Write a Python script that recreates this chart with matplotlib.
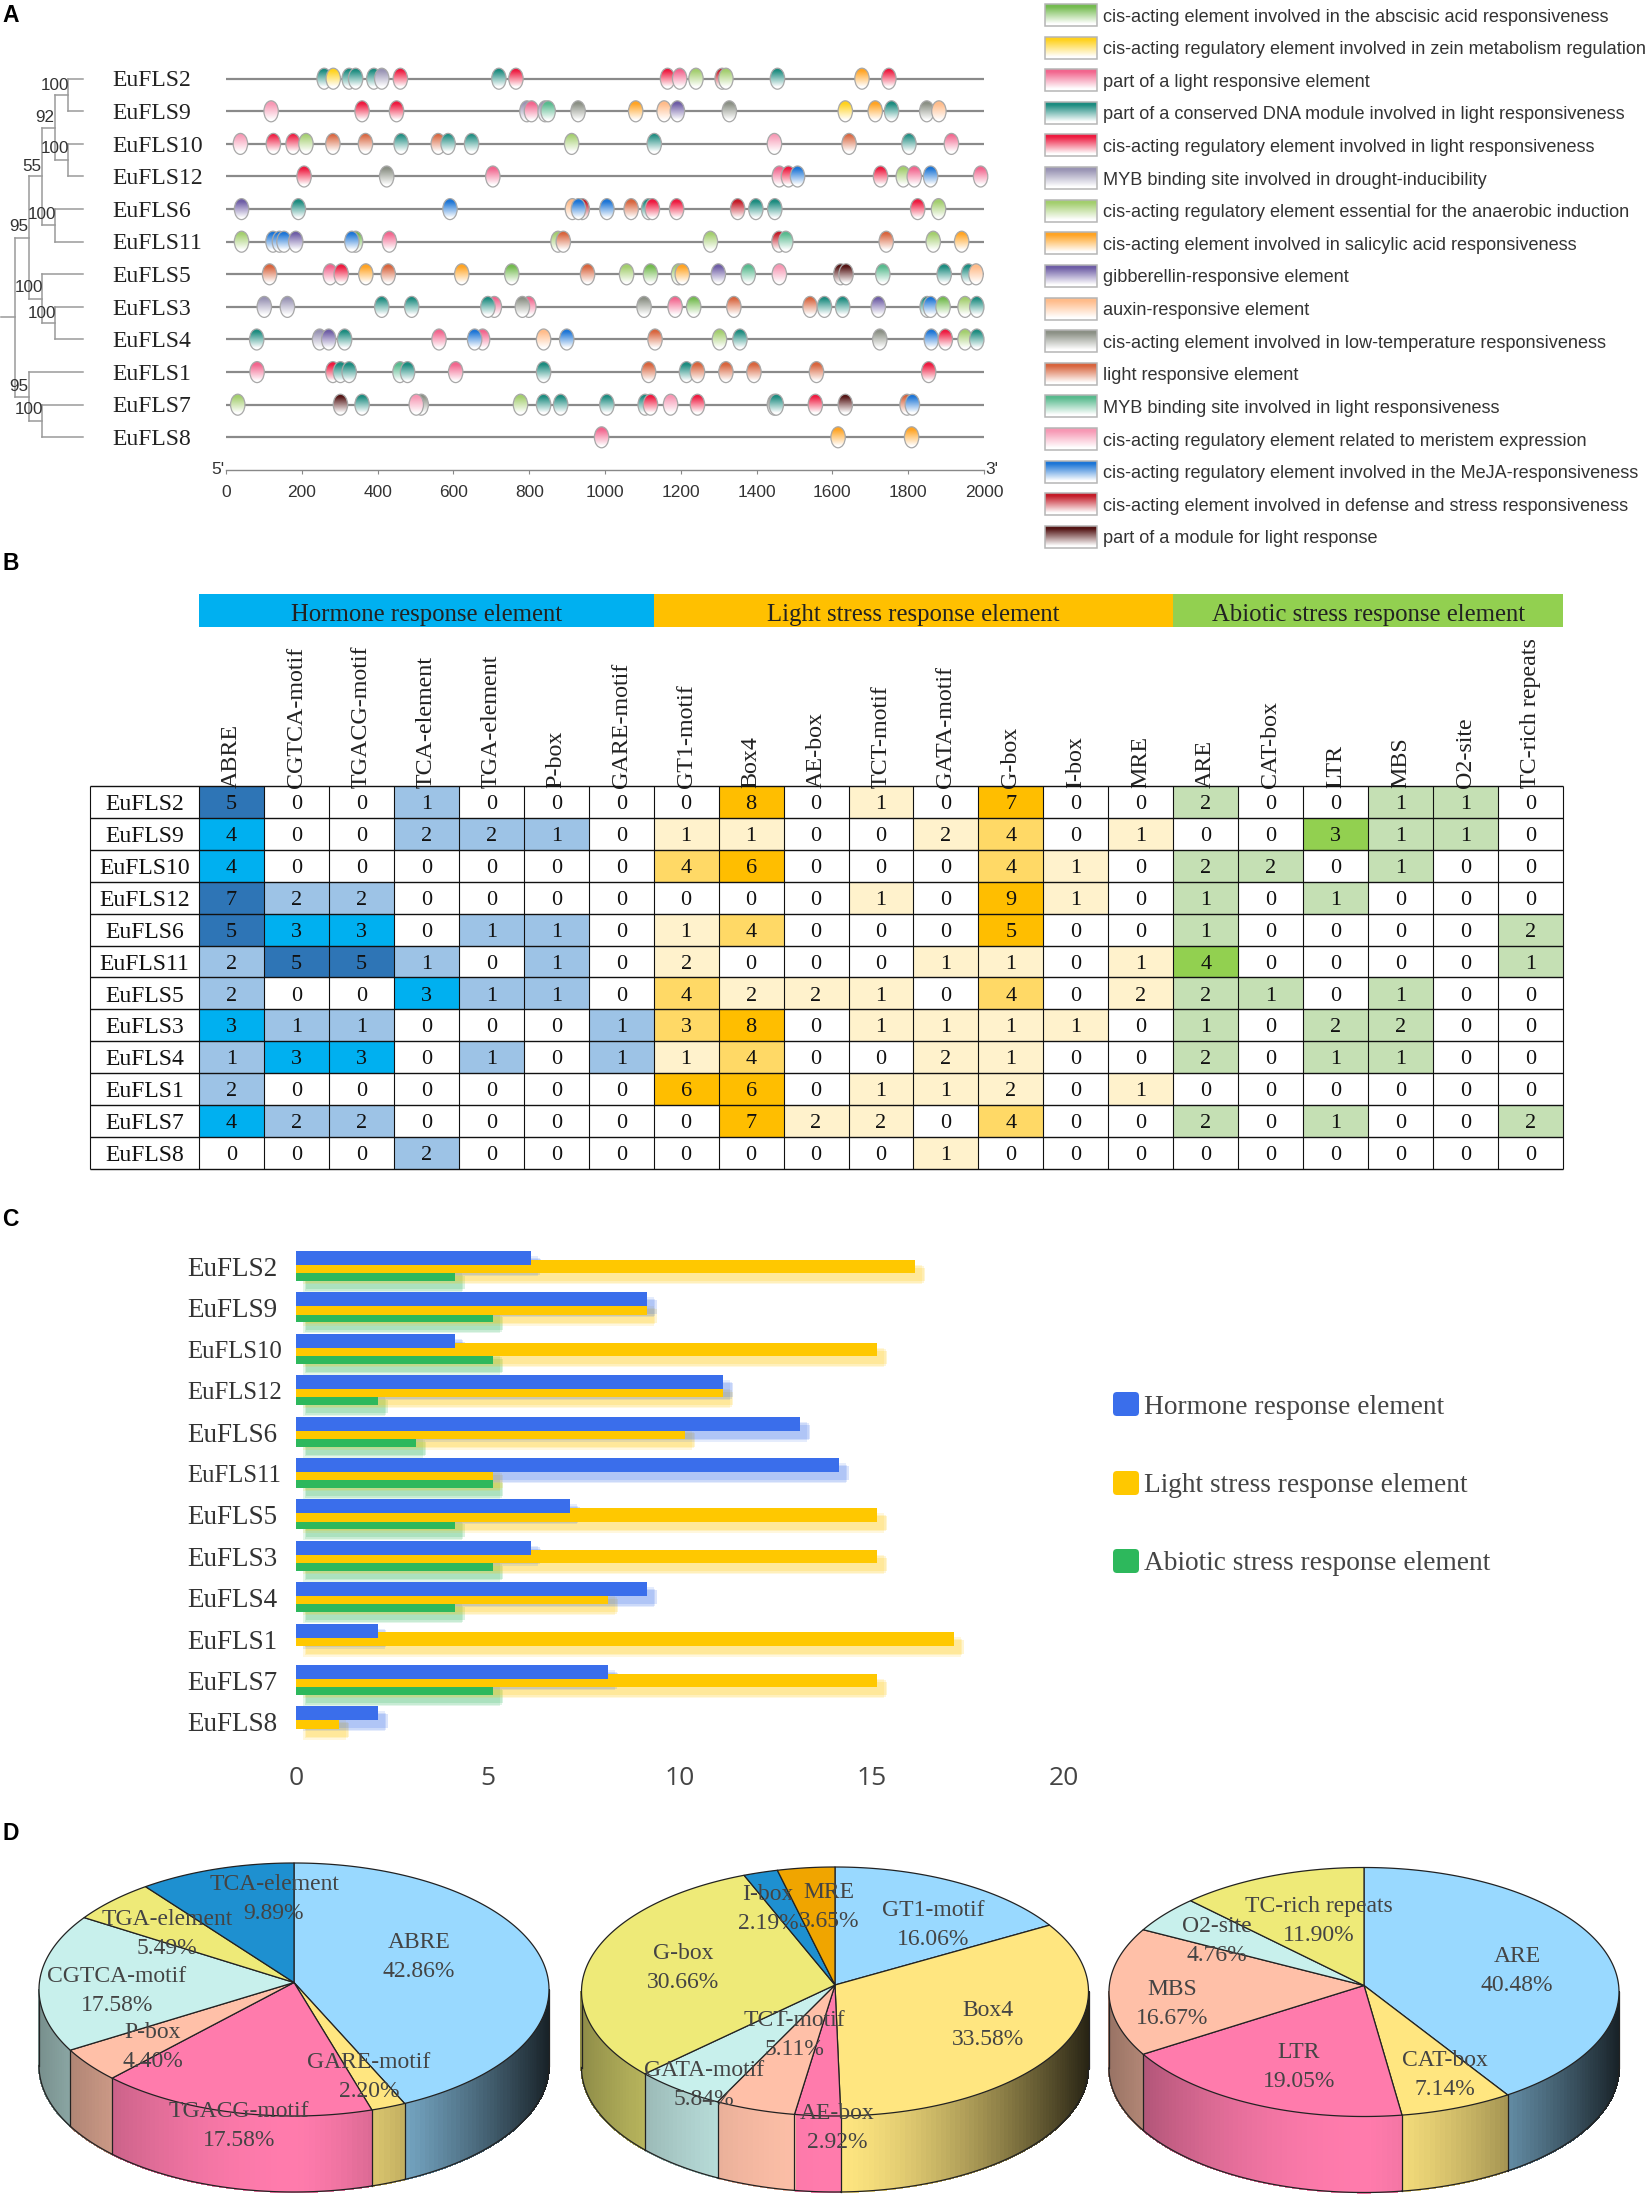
import numpy as np
import matplotlib
matplotlib.use('Agg')
import matplotlib.pyplot as plt
from matplotlib.patches import Ellipse, Rectangle, FancyBboxPatch, Polygon
from matplotlib.colors import to_rgb

W, H = 1652, 2195
SERIF = 'Liberation Serif'
SANS = 'Liberation Sans'

# ---------------- data ----------------
tree_genes = ['EuFLS2', 'EuFLS9', 'EuFLS10', 'EuFLS12', 'EuFLS6', 'EuFLS11',
              'EuFLS5', 'EuFLS3', 'EuFLS4', 'EuFLS1', 'EuFLS7', 'EuFLS8']

motif_names = {
    'ab': 'cis-acting element involved in the abscisic acid responsiveness',
    'ze': 'cis-acting regulatory element involved in zein metabolism regulation',
    'pl': 'part of a light responsive element',
    'cd': 'part of a conserved DNA module involved in light responsiveness',
    'lr': 'cis-acting regulatory element involved in light responsiveness',
    'dr': 'MYB binding site involved in drought-inducibility',
    'an': 'cis-acting regulatory element essential for the anaerobic induction',
    'sa': 'cis-acting element involved in salicylic acid responsiveness',
    'gi': 'gibberellin-responsive element',
    'au': 'auxin-responsive element',
    'lt': 'cis-acting element involved in low-temperature responsiveness',
    'le': 'light responsive element',
    'my': 'MYB binding site involved in light responsiveness',
    'me': 'cis-acting regulatory element related to meristem expression',
    'ja': 'cis-acting regulatory element involved in the MeJA-responsiveness',
    'de': 'cis-acting element involved in defense and stress responsiveness',
    'mo': 'part of a module for light response',
}
motif_colors = {
    'ab': '#74BB50', 'ze': '#FFD21E', 'pl': '#F2668E', 'cd': '#1D8C80', 'lr': '#EE1B40',
    'dr': '#9994B4', 'an': '#A3CE6E', 'sa': '#FFA424', 'gi': '#6F5EA6', 'au': '#FFBC8A',
    'lt': '#8C9186', 'le': '#D8653E', 'my': '#58BA8E', 'me': '#F798B4', 'ja': '#1E76D6',
    'de': '#C41C28', 'mo': '#551616',
}
motif_sites = {
    'EuFLS2': [(259,'cd'),(283,'ze'),(325,'cd'),(342,'cd'),(390,'cd'),(411,'dr'),(460,'lr'),(720,'cd'),(765,'lr'),
               (1165,'lr'),(1197,'pl'),(1240,'an'),(1309,'de'),(1319,'an'),(1455,'cd'),(1678,'sa'),(1749,'lr')],
    'EuFLS9': [(119,'me'),(359,'lr'),(450,'lr'),(794,'dr'),(806,'pl'),(842,'dr'),(850,'my'),(929,'lt'),(1081,'sa'),
               (1156,'au'),(1191,'gi'),(1328,'lt'),(1634,'ze'),(1713,'sa'),(1756,'cd'),(1849,'lt'),(1881,'au')],
    'EuFLS10': [(38,'me'),(125,'lr'),(177,'lr'),(211,'an'),(282,'le'),(368,'le'),(462,'cd'),(560,'le'),(586,'cd'),
                (648,'cd'),(912,'an'),(1130,'cd'),(1447,'me'),(1644,'le'),(1802,'cd'),(1914,'pl')],
    'EuFLS12': [(206,'lr'),(424,'lt'),(704,'pl'),(1460,'pl'),(1484,'lr'),(1508,'ja'),(1727,'lr'),(1787,'an'),
                (1816,'pl'),(1859,'ja'),(1991,'pl')],
    'EuFLS6': [(41,'gi'),(191,'cd'),(591,'ja'),(914,'au'),(940,'de'),(930,'ja'),(1005,'ja'),(1069,'le'),(1115,'cd'),
               (1125,'lr'),(1189,'lr'),(1350,'de'),(1398,'cd'),(1448,'cd'),(1825,'lr'),(1880,'an')],
    'EuFLS11': [(41,'an'),(124,'ja'),(141,'ja'),(153,'ja'),(184,'gi'),(342,'ab'),(332,'ja'),(431,'pl'),(876,'an'),
                (890,'le'),(1278,'an'),(1459,'de'),(1477,'my'),(1742,'le'),(1866,'an'),(1941,'sa')],
    'EuFLS5': [(115,'le'),(275,'pl'),(304,'lr'),(369,'sa'),(428,'le'),(622,'sa'),(754,'ab'),(954,'le'),(1057,'an'),
               (1120,'ab'),(1194,'an'),(1204,'sa'),(1299,'gi'),(1378,'my'),(1460,'me'),(1622,'mo'),(1636,'mo'),
               (1733,'my'),(1895,'cd'),(1959,'cd'),(1979,'au')],
    'EuFLS3': [(101,'dr'),(162,'dr'),(411,'cd'),(490,'cd'),(708,'pl'),(691,'cd'),(799,'pl'),(782,'lt'),(1103,'lt'),
               (1185,'pl'),(1234,'ab'),(1340,'le'),(1541,'le'),(1579,'cd'),(1627,'cd'),(1721,'gi'),(1850,'cd'),
               (1859,'ja'),(1892,'ab'),(1950,'an'),(1981,'cd')],
    'EuFLS4': [(81,'cd'),(247,'dr'),(271,'gi'),(313,'cd'),(562,'pl'),(677,'pl'),(656,'ja'),(838,'au'),(899,'ja'),
               (1132,'le'),(1302,'an'),(1356,'cd'),(1725,'lt'),(1861,'ja'),(1898,'lr'),(1950,'an'),(1981,'cd')],
    'EuFLS1': [(82,'pl'),(282,'lr'),(302,'cd'),(325,'cd'),(459,'my'),(479,'cd'),(606,'pl'),(838,'cd'),(1115,'le'),
               (1215,'cd'),(1244,'le'),(1319,'le'),(1393,'le'),(1558,'le'),(1854,'lr')],
    'EuFLS7': [(31,'an'),(302,'mo'),(359,'cd'),(515,'lt'),(502,'me'),(777,'an'),(838,'cd'),(883,'cd'),(1005,'cd'),
               (1106,'cd'),(1120,'lr'),(1173,'me'),(1244,'lr'),(1447,'lt'),(1452,'cd'),(1555,'lr'),(1634,'mo'),
               (1797,'le'),(1811,'ja')],
    'EuFLS8': [(991,'pl'),(1615,'sa'),(1809,'sa')],
}
# tree: (node x in px, children); leaves are row indices
tree_topology = (15, [
    (29, [(42, [(55, [(68, [0, 1]), (68, [2, 3])]), (55, [4, 5])]),
          (42, [6, (55, [7, 8])])]),
    (29, [9, (42, [10, 11])]),
])
bootstrap_labels = ['100', '92', '100', '55', '100', '95', '100', '100', '95', '100']
bootstrap_x = [55, 45, 55, 32, 42, 19, 29, 42, 19, 29]
bootstrap_y = [85, 117, 149, 167, 215, 227, 288, 314, 387, 410]

groups = ['Hormone response element', 'Light stress response element', 'Abiotic stress response element']
group_sizes = [7, 8, 6]
elements = ['ABRE', 'CGTCA-motif', 'TGACG-motif', 'TCA-element', 'TGA-element', 'P-box', 'GARE-motif',
            'GT1-motif', 'Box4', 'AE-box', 'TCT-motif', 'GATA-motif', 'G-box', 'I-box', 'MRE',
            'ARE', 'CAT-box', 'LTR', 'MBS', 'O2-site', 'TC-rich repeats']
counts = np.array([
    [5,0,0,1,0,0,0, 0,8,0,1,0,7,0,0, 2,0,0,1,1,0],
    [4,0,0,2,2,1,0, 1,1,0,0,2,4,0,1, 0,0,3,1,1,0],
    [4,0,0,0,0,0,0, 4,6,0,0,0,4,1,0, 2,2,0,1,0,0],
    [7,2,2,0,0,0,0, 0,0,0,1,0,9,1,0, 1,0,1,0,0,0],
    [5,3,3,0,1,1,0, 1,4,0,0,0,5,0,0, 1,0,0,0,0,2],
    [2,5,5,1,0,1,0, 2,0,0,0,1,1,0,1, 4,0,0,0,0,1],
    [2,0,0,3,1,1,0, 4,2,2,1,0,4,0,2, 2,1,0,1,0,0],
    [3,1,1,0,0,0,1, 3,8,0,1,1,1,1,0, 1,0,2,2,0,0],
    [1,3,3,0,1,0,1, 1,4,0,0,2,1,0,0, 2,0,1,1,0,0],
    [2,0,0,0,0,0,0, 6,6,0,1,1,2,0,1, 0,0,0,0,0,0],
    [4,2,2,0,0,0,0, 0,7,2,2,0,4,0,0, 2,0,1,0,0,2],
    [0,0,0,2,0,0,0, 0,0,0,0,1,0,0,0, 0,0,0,0,0,0],
])

bar_hormone = [6, 9, 4, 11, 13, 14, 7, 6, 9, 2, 8, 2]
bar_light = [16, 9, 15, 11, 10, 5, 15, 15, 8, 17, 15, 1]
bar_abiotic = [4, 5, 5, 2, 3, 5, 4, 5, 4, 0, 5, 0]

pie1_names = ['ABRE', 'GARE-motif', 'TGACG-motif', 'P-box', 'CGTCA-motif', 'TGA-element', 'TCA-element']
pie1_share = [42.86, 2.20, 17.58, 4.40, 17.58, 5.49, 9.89]
pie2_names = ['GT1-motif', 'Box4', 'AE-box', 'TCT-motif', 'GATA-motif', 'G-box', 'I-box', 'MRE']
pie2_share = [16.06, 33.58, 2.92, 5.11, 5.84, 30.66, 2.19, 3.65]
pie3_names = ['ARE', 'CAT-box', 'LTR', 'MBS', 'O2-site', 'TC-rich repeats']
pie3_share = [40.48, 7.14, 19.05, 16.67, 4.76, 11.90]

# ---------------- style / layout ----------------
LIGHTBLUE, PALEYEL, PINK, PEACH, MINT, LEMON, DEEPBLUE, ORANGE = (
    '#99D9FF', '#FFE680', '#FF7BAC', '#FFC0A8', '#C8F0EC', '#EEEA78', '#1E90D0', '#F0A500')
pie1_colors = [LIGHTBLUE, PALEYEL, PINK, PEACH, MINT, LEMON, DEEPBLUE]
pie2_colors = [LIGHTBLUE, PALEYEL, PINK, PEACH, MINT, LEMON, DEEPBLUE, ORANGE]
pie3_colors = [LIGHTBLUE, PALEYEL, PINK, PEACH, MINT, LEMON]
pie1_label_xy = [(419,1957),(369,2077),(239,2126),(153,2047),(117,1991),(167,1934),(274,1899)]
pie2_label_xy = [(933,1925),(988,2025),(837,2128),(794,2035),(704,2085),(683,1968),(768,1909),(829,1907)]
pie3_label_xy = [(1517,1971),(1445,2075),(1299,2067),(1172,2004),(1217,1941),(1319,1921)]

fig = plt.figure(figsize=(W / 100, H / 100), dpi=100, facecolor='white')

def add_ax(x0, y0, x1, y1):
    return fig.add_axes([x0 / W, 1 - y1 / H, (x1 - x0) / W, (y1 - y0) / H])

def gradient(color):
    rgb = np.array(to_rgb(color))
    t = np.clip((np.linspace(0, 1, 64) - 0.12) / 0.78, 0, 1)[:, None]
    return (rgb[None, :] * (1 - t) + t)[:, None, :]

# ---------------- panel A: tracks ----------------
ROW0, PITCH = 78.7, 32.6
X0, PXBP = 226.0, 758.0 / 2000
tx0, tx1, ty0, ty1 = 205, 1005, 50, 470
ax = add_ax(tx0, ty0, tx1, ty1)
ax.set_xlim((tx0 - X0) / PXBP, (tx1 - X0) / PXBP)
ax.set_ylim((ty1 - ROW0) / PITCH, (ty0 - ROW0) / PITCH)
ax.patch.set_alpha(0)
for s in ['top', 'left', 'right']:
    ax.spines[s].set_visible(False)
ax.spines['bottom'].set_bounds(0, 2000)
ax.spines['bottom'].set_color('#888888')
ax.spines['bottom'].set_linewidth(1.0)
ax.set_yticks([])
ax.set_xticks(range(0, 2001, 200))
ax.tick_params(axis='x', length=3, width=0.8, color='#888888', pad=8, labelcolor='#333333')
for t in ax.get_xticklabels():
    t.set_fontfamily(SANS); t.set_fontsize(12.5)
ax.text(-4, (470 - ROW0) / PITCH, "5'", family=SANS, fontsize=12.5, ha='right', va='center', color='#333333')
ax.text(2004, (470 - ROW0) / PITCH, "3'", family=SANS, fontsize=12.5, ha='left', va='center', color='#333333')
mw, mh = 7.2 / PXBP, 10.5 / PITCH
for r, g in enumerate(tree_genes):
    ax.plot([0, 2000], [r, r], color='#8A8A8A', lw=1.6, zorder=1, solid_capstyle='butt')
    for k, (pos, kind) in enumerate(motif_sites[g]):
        z = 2 + k * 0.01
        im = ax.imshow(gradient(motif_colors[kind]), extent=[pos - mw, pos + mw, r + mh, r - mh],
                       aspect='auto', zorder=z, interpolation='bilinear')
        e = Ellipse((pos, r), 2 * mw, 2 * mh, fc='none', ec='#A8A8A8', lw=0.9, zorder=z + 0.005)
        ax.add_patch(e)
        im.set_clip_path(e)

# tree + gene labels
ax = add_ax(0, ty0, 205, ty1)
ax.set_xlim(0, 205)
ax.set_ylim((ty1 - ROW0) / PITCH, (ty0 - ROW0) / PITCH)
ax.axis('off')
TC = '#9A9A9A'
def draw(node):
    if isinstance(node, int):
        return 83, node
    x, kids = node
    ys = []
    for k in kids:
        cx_, cy_ = draw(k)
        ax.plot([x, cx_], [cy_, cy_], color=TC, lw=1.1, solid_capstyle='projecting')
        ys.append(cy_)
    ax.plot([x, x], [min(ys), max(ys)], color=TC, lw=1.1, solid_capstyle='projecting')
    return x, (min(ys) + max(ys)) / 2
rx_, ry_ = draw(tree_topology)
ax.plot([1, rx_], [ry_, ry_], color=TC, lw=1.1)
for lab, x, y in zip(bootstrap_labels, bootstrap_x, bootstrap_y):
    ax.text(x, (y - ROW0) / PITCH, lab, family=SANS, fontsize=12.3, color='#333333', ha='center', va='center')
for r, g in enumerate(tree_genes):
    ax.text(112, r + 0.07, g, family=SERIF, fontsize=17, color='#222222', ha='left', va='center')

# motif legend
ax = add_ax(1030, 0, 1652, 552)
ax.set_xlim(1030, 1652)
ax.set_ylim(552, 0)
ax.axis('off')
for i, k in enumerate(motif_names):
    y = 15 + i * 32.62
    ax.imshow(gradient(motif_colors[k]), extent=[1045, 1097, y + 11, y - 11], aspect='auto',
              interpolation='bilinear', zorder=2)
    ax.add_patch(Rectangle((1045, y - 11), 52, 22, fc='none', ec='#B5B5B5', lw=1.1, zorder=3))
    ax.text(1103, y + 2, motif_names[k], family=SANS, fontsize=13.1, color='#333333', ha='left', va='center')

# ---------------- panel B: table ----------------
TL, T0, TR, TT, TB = 90, 199, 1563, 786, 1169
ax = add_ax(TL, TT, TR, TB)
lab_w = (T0 - TL) / ((TR - T0) / 21)
ax.set_xlim(-lab_w, 21)
ax.set_ylim(12, 0)
palettes = [('#9DC3E6', '#00B0F0', '#2E75B6'), ('#FFF2CC', '#FFD966', '#FFBE00'), ('#C5E0B4', '#92D050', '#92D050')]
group_col = np.repeat(np.arange(3), group_sizes)
for r in range(12):
    for c in range(21):
        v = counts[r, c]
        if v == 0:
            fc = 'white'
        else:
            fc = palettes[group_col[c]][0 if v <= 2 else (1 if v <= 4 else 2)]
        ax.add_patch(Rectangle((c, r), 1, 1, fc=fc, ec='none', zorder=1))
        ax.text(c + 0.5, r + 0.58, str(v), family=SERIF, fontsize=16, ha='center', va='center', color='#111111', zorder=4)
    ax.text(-lab_w / 2, r + 0.58, tree_genes[r], family=SERIF, fontsize=17, ha='center', va='center', color='#111111', zorder=4)
ax.hlines(np.arange(13), -lab_w, 21, color='#111111', lw=1.0, zorder=3, clip_on=False)
ax.vlines(np.r_[-lab_w, np.arange(22)], 0, 12, color='#111111', lw=0.8, zorder=3, clip_on=False)
for s in ax.spines.values():
    s.set_visible(False)
ax.set_yticks([])
ax.xaxis.tick_top()
ax.set_xticks(np.arange(21) + 0.5)
ax.set_xticklabels(elements, rotation=90, family=SERIF, fontsize=17.3, ha='center', va='bottom', color='#222222')
ax.tick_params(axis='x', length=0, pad=-1.5)
start = 0
band_colors = ['#00B0F0', '#FFC000', '#92D050']
for name, n, col in zip(groups, group_sizes, band_colors):
    ax.add_patch(Rectangle((start, -6.0), n, 1.02, fc=col, ec='none', clip_on=False))
    ax.text(start + n / 2, -5.37, name, family=SERIF, fontsize=17.8, ha='center', va='center',
            color='#222222', clip_on=False)
    start += n

# ---------------- panel C: bars ----------------
BX0, BX1, BY0, BY1 = 296, 1064, 1240, 1745
RC, RP = 1266.5, 41.4
ax = add_ax(BX0, BY0, BX1, BY1)
ax.set_xlim(0, 20)
ax.set_ylim((BY1 - RC) / RP, (BY0 - RC) / RP)
ax.patch.set_alpha(0)
ux = (BX1 - BX0) / 20
ys = np.arange(12)
CAP = 5.0 / ux   # rounded bar ends run a little past the value
series = [(bar_abiotic, '#2DB85C', 8.0 / RP, 13.0 / RP),
          (bar_light, '#FFC800', 0.0, 13.5 / RP),
          (bar_hormone, '#3A6EEB', -8.5 / RP, 14.0 / RP)]
for vals, col, off, hgt in series:
    w = np.where(np.array(vals) > 0, np.array(vals) + CAP, 0)
    for grow, alpha in [(3.0, 0.13), (1.5, 0.15), (0.0, 0.18)]:
        ax.barh(ys + off + 8 / RP, w, height=hgt + 2 * grow / RP, left=(10 - grow) / ux, color=col,
                alpha=alpha, lw=0, zorder=1)
for z, (vals, col, off, hgt) in enumerate(series):
    w = np.where(np.array(vals) > 0, np.array(vals) + CAP, 0)
    ax.barh(ys + off, w, height=hgt, color=col, lw=0, zorder=3 + z)
for s in ax.spines.values():
    s.set_visible(False)
ax.set_yticks(ys)
ax.set_yticklabels(tree_genes, family=SERIF, fontsize=19.5, color='#333333', ha='left')
ax.set_xticks([0, 5, 10, 15, 20])
ax.tick_params(axis='both', length=0)
ax.tick_params(axis='y', pad=78)
ax.tick_params(axis='x', pad=15, labelcolor='#444444')
for t in ax.get_xticklabels():
    t.set_fontfamily('Open Sans'); t.set_fontsize(19)
for t in ax.get_yticklabels():
    if t.get_text() in ('EuFLS10', 'EuFLS11', 'EuFLS12'):
        t.set_fontsize(17.8)

# ---------------- overlay: letters, legend C, panel D ----------------
ov = fig.add_axes([0, 0, 1, 1])
ov.set_xlim(0, W)
ov.set_ylim(H, 0)
ov.axis('off')
ov.patch.set_alpha(0)
for letter, y in zip('ABCD', [16, 563, 1220, 1834]):
    ov.text(2, y, letter, family=SANS, fontweight='bold', fontsize=16.5, ha='left', va='center', color='black')
for name, col, y in zip(groups, ['#3A6EEB', '#FFC800', '#2DB85C'], [1404, 1483, 1561]):
    ov.add_patch(FancyBboxPatch((1115, y - 10), 22, 20, boxstyle='round,pad=2,rounding_size=4', fc=col, ec='none'))
    ov.text(1144, y + 3, name, family=SERIF, fontsize=19.7, color='#444444', ha='left', va='center')

def shade(u):
    return 1 - 0.40 * abs(u) ** 2 if u <= 0 else 1 - 0.85 * u ** 1.5

def pie3d(names, shares, colors, label_xy, cx, cy, rx, ry, apex_dy, depth):
    rim = lambda th: (cx + rx * np.sin(th), cy - ry * np.cos(th))
    bounds = np.radians(np.r_[0, np.cumsum(shares)] / np.sum(shares) * 360)
    front0, front1 = np.pi / 2, 3 * np.pi / 2
    # side wall
    for a, b, col in zip(bounds[:-1], bounds[1:], colors):
        lo, hi = max(a, front0), min(b, front1)
        if lo >= hi:
            continue
        th = np.linspace(lo, hi, max(2, int(np.degrees(hi - lo) / 1.2) + 1))
        base = np.array(to_rgb(col))
        for t0, t1 in zip(th[:-1], th[1:]):
            x0, y0 = rim(t0); x1, y1 = rim(t1)
            f = shade(np.sin((t0 + t1) / 2))
            c = tuple(np.clip(base * f, 0, 1))
            ov.add_patch(Polygon([(x0, y0), (x1, y1), (x1, y1 + depth), (x0, y0 + depth)],
                                 fc=c, ec=c, lw=0.8, antialiased=False, zorder=2))
        xs, ys_ = rim(th)
        ov.plot(xs, ys_ + depth, color='#222222', lw=0.9, zorder=3)
    for b in bounds[:-1]:
        if front0 < b < front1:
            x, y = rim(b)
            ov.plot([x, x], [y, y + depth], color='#222222', lw=0.9, zorder=3)
    for b in (front0, front1):
        x, y = rim(b)
        ov.plot([x, x], [y, y + depth], color='#222222', lw=0.9, zorder=3)
    # top face
    apex = (cx, cy - apex_dy)
    for a, b, col in zip(bounds[:-1], bounds[1:], colors):
        th = np.linspace(a, b, max(3, int(np.degrees(b - a)) + 2))
        xs, ys_ = rim(th)
        ov.add_patch(Polygon([apex] + list(zip(xs, ys_)), closed=True, fc=col, ec='#222222', lw=0.9,
                             joinstyle='round', zorder=4))
    for name, s, (x, y) in zip(names, shares, label_xy):
        ov.text(x, y, f'{name}\n{s:.2f}%', family=SERIF, fontsize=17, color='#444444', ha='center', va='center',
                linespacing=1.45, zorder=6)

pie3d(pie1_names, pie1_share, pie1_colors, pie1_label_xy, 294, 1989.5, 255, 126.5, 7, 76)
pie3d(pie2_names, pie2_share, pie2_colors, pie2_label_xy, 835, 1991.5, 253.5, 124.5, 6.5, 76)
pie3d(pie3_names, pie3_share, pie3_colors, pie3_label_xy, 1364, 1992, 255, 124.5, 6.5, 76)

fig.savefig('out.png', dpi=100, facecolor='white')
